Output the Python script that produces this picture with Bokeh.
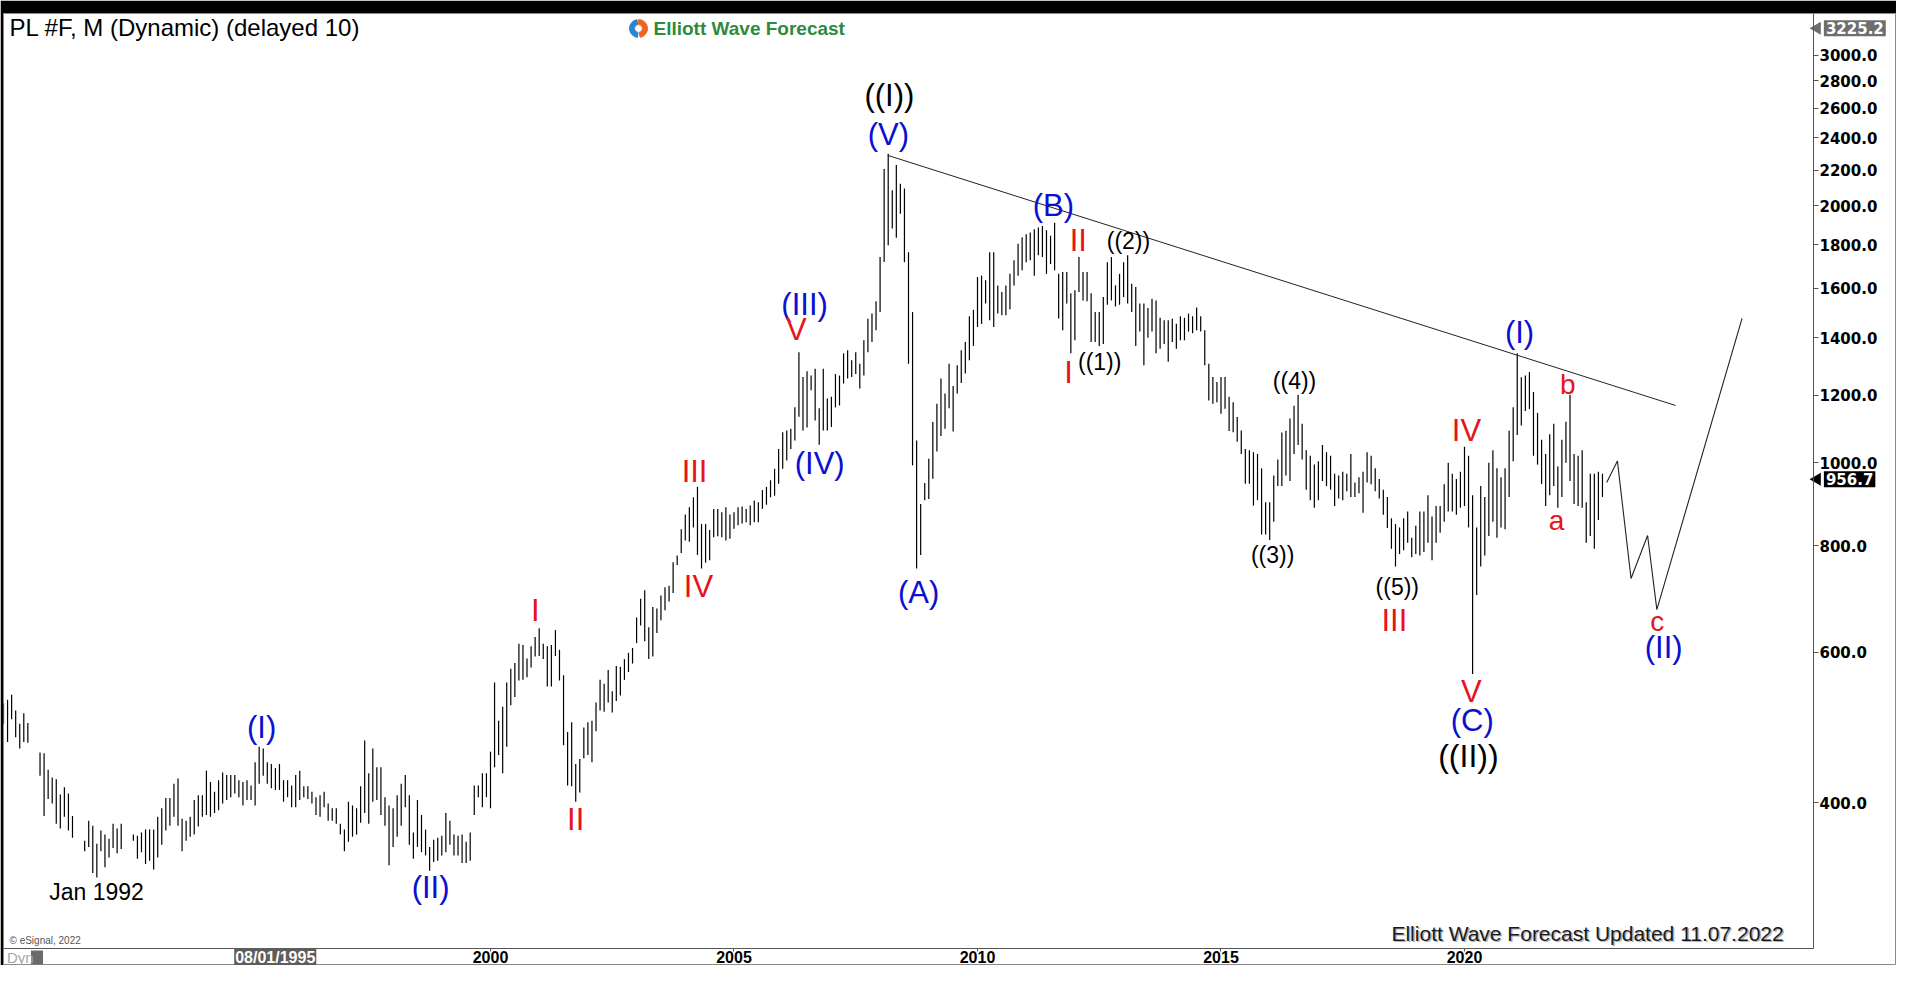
import math
from bokeh.plotting import figure
from bokeh.models import (ColumnDataSource, Range1d, LinearAxis, LogAxis, FixedTicker,
                          PrintfTickFormatter, Label, Grid)
from bokeh.core.properties import value
from bokeh.embed import file_html
from bokeh.resources import INLINE

N = None
# ---- monthly highs / lows of PL #F ----
hi_1990 = [523, 528, 535, 513, 495, 509, 496, N, N, 458, 457, 437]
lo_1990 = [495, 471, 501, 477, 463, 471, 470, N, N, 430, 386, 404]
hi_1991 = [428, 426, 409, 417, 410, 386, N, N, 361, 381, 376, 358]
lo_1991 = [399, 378, 373, 385, 371, 364, N, N, 351, 355, 331, 327]
hi_1992 = [371, 367, 363, 378, 373, 378, N, N, 367, 366, 369, 372]
lo_1992 = [351, 336, 345, 354, 349, 353, N, N, 361, 344, 350, 339]
hi_1993 = [372, 372, 385, 394, 405, 405, 421, 427, 383, 381, 385, 403]
lo_1993 = [342, 334, 345, 357, 371, 376, 385, 376, 351, 361, 365, 367]
hi_1994 = [408, 408, 436, 423, 412, 425, 434, 431, 431, 431, 425, 423]
lo_1994 = [375, 385, 387, 385, 389, 392, 399, 403, 406, 410, 406, 397]
hi_1995 = [425, 419, 446, 465, 463, 446, 444, 439, 444, 425, 425, 419]
lo_1995 = [403, 403, 397, 421, 430, 421, 416, 414, 414, 401, 406, 395]
hi_1996 = [431, 436, 418, 418, 412, 406, 408, 412, 399, 394, 394, 378]
lo_1996 = [395, 403, 406, 404, 399, 387, 385, 395, 381, 381, 378, 367]
hi_1997 = [372, 401, 397, 394, 418, 473, 433, 463, 440, 440, 406, 397]
lo_1997 = [351, 360, 365, 367, 379, 389, 378, 401, 403, 387, 376, 338]
hi_1998 = [394, 408, 421, 431, 408, 369, 403, 387, 372, 355, 362, 364]
lo_1998 = [355, 365, 376, 395, 357, 344, 355, 350, 347, 333, 341, 342]
hi_1999 = [366, 389, 381, 367, 366, 367, 360, 369, 419, 419, 433, 433]
lo_1999 = [347, 350, 357, 347, 347, 340, 340, 342, 387, 406, 395, 406]
hi_2000 = [459, 553, 499, 518, 553, 574, 583, 614, 612, 590, 610, 625]
lo_2000 = [394, 440, 455, 433, 465, 520, 532, 556, 557, 561, 576, 593]
hi_2001 = [640, 614, 610, 612, 637, 604, 564, 484, 497, 444, 450, 490]
lo_2001 = [594, 589, 547, 547, 594, 556, 467, 419, 418, 401, 411, 451]
hi_2002 = [497, 499, 524, 557, 551, 572, 540, 578, 577, 589, 599, 607]
lo_2002 = [455, 446, 485, 513, 511, 524, 510, 526, 534, 557, 569, 582]
hi_2003 = [659, 693, 709, 642, 678, 675, 699, 715, 718, 765, 779, 836]
lo_2003 = [615, 645, 618, 589, 593, 632, 654, 672, 688, 704, 759, 784]
hi_2004 = [870, 887, 911, 937, 848, 848, 834, 883, 883, 875, 887, 870]
lo_2004 = [811, 808, 840, 780, 752, 764, 769, 818, 820, 818, 811, 815]
hi_2005 = [875, 887, 889, 883, 891, 903, 899, 929, 937, 954, 984, 1038]
lo_2005 = [837, 845, 849, 852, 845, 852, 852, 883, 893, 911, 915, 945]
hi_2006 = [1086, 1091, 1096, 1161, 1347, 1260, 1280, 1265, 1288, 1158, 1288, 1189]
lo_2006 = [984, 1006, 1038, 1062, 1132, 1091, 1100, 1216, 1121, 1050, 1091, 1091]
hi_2007 = [1195, 1270, 1265, 1343, 1354, 1318, 1347, 1306, 1391, 1474, 1495, 1546]
lo_2007 = [1101, 1161, 1167, 1238, 1255, 1260, 1270, 1222, 1265, 1347, 1385, 1429]
hi_2008 = [1741, 2207, 2300, 2084, 2231, 2122, 2094, 1764, 1501, 1062, 895, 947]
lo_2008 = [1501, 1718, 1797, 1880, 1834, 1957, 1717, 1306, 993, 752, 780, 904]
hi_2009 = [1011, 1116, 1172, 1255, 1205, 1306, 1230, 1301, 1354, 1385, 1484, 1510]
lo_2009 = [907, 958, 1031, 1075, 1096, 1158, 1088, 1205, 1240, 1272, 1318, 1370]
hi_2010 = [1650, 1656, 1635, 1764, 1764, 1613, 1585, 1613, 1664, 1726, 1805, 1836]
lo_2010 = [1442, 1454, 1536, 1468, 1442, 1495, 1488, 1488, 1513, 1613, 1656, 1680]
hi_2011 = [1852, 1860, 1877, 1885, 1893, 1871, 1844, 1910, 1664, 1672, 1672, 1579]
lo_2011 = [1717, 1726, 1656, 1750, 1741, 1664, 1709, 1680, 1475, 1429, 1536, 1343]
hi_2012 = [1592, 1741, 1672, 1672, 1579, 1501, 1501, 1563, 1717, 1741, 1613, 1664]
lo_2012 = [1391, 1585, 1549, 1545, 1385, 1385, 1370, 1377, 1531, 1549, 1524, 1531]
hi_2013 = [1717, 1750, 1620, 1606, 1536, 1536, 1518, 1556, 1549, 1478, 1468, 1468]
lo_2013 = [1563, 1536, 1501, 1370, 1424, 1301, 1401, 1424, 1343, 1360, 1377, 1313]
hi_2014 = [1474, 1455, 1484, 1478, 1495, 1484, 1520, 1484, 1429, 1306, 1260, 1243]
lo_2014 = [1385, 1360, 1391, 1391, 1424, 1418, 1429, 1424, 1301, 1183, 1172, 1177]
hi_2015 = [1260, 1260, 1195, 1177, 1131, 1091, 1038, 1034, 1029, 1024, 985, 899]
lo_2015 = [1141, 1157, 1089, 1086, 1058, 1024, 945, 945, 891, 904, 824, 824]
hi_2016 = [899, 966, 1009, 1085, 1090, 1127, 1166, 1201, 1111, 1034, 1019, 995]
lo_2016 = [812, 853, 939, 939, 966, 952, 1024, 1049, 1009, 930, 904, 886]
hi_2017 = [1004, 1049, 1029, 1019, 971, 966, 976, 971, 1024, 948, 962, 976]
lo_2017 = [904, 952, 939, 930, 890, 908, 904, 926, 912, 912, 921, 874]
hi_2018 = [1029, 1019, 985, 957, 930, 912, 861, 848, 840, 861, 877, 817]
lo_2018 = [948, 944, 926, 908, 869, 839, 793, 756, 782, 790, 806, 775]
hi_2019 = [844, 877, 877, 916, 865, 890, 890, 944, 1000, 971, 957, 976]
lo_2019 = [782, 779, 786, 806, 769, 806, 828, 853, 877, 877, 869, 886]
hi_2020 = [1044, 1019, 916, 840, 939, 912, 1000, 1034, 985, 962, 985, 1090]
lo_2020 = [890, 840, 566, 700, 756, 779, 821, 853, 817, 840, 836, 912]
hi_2021 = [1161, 1343, 1259, 1265, 1277, 1210, 1144, 1064, 1024, 1080, 1111, 990]
lo_2021 = [1004, 1078, 1106, 1150, 1156, 1019, 995, 944, 890, 916, 939, 886]
hi_2022 = [1064, 1117, 1201, 1024, 1019, 1034, 899, 971, 971, 976, 971]
lo_2022 = [912, 1000, 952, 895, 890, 886, 806, 821, 793, 857, 912]
last_close = 956.7
highest_mark = 3225.2

HI = [hi_1990, hi_1991, hi_1992, hi_1993, hi_1994, hi_1995, hi_1996, hi_1997, hi_1998,
      hi_1999, hi_2000, hi_2001, hi_2002, hi_2003, hi_2004, hi_2005, hi_2006, hi_2007,
      hi_2008, hi_2009, hi_2010, hi_2011, hi_2012, hi_2013, hi_2014, hi_2015, hi_2016,
      hi_2017, hi_2018, hi_2019, hi_2020, hi_2021, hi_2022]
LO = [lo_1990, lo_1991, lo_1992, lo_1993, lo_1994, lo_1995, lo_1996, lo_1997, lo_1998,
      lo_1999, lo_2000, lo_2001, lo_2002, lo_2003, lo_2004, lo_2005, lo_2006, lo_2007,
      lo_2008, lo_2009, lo_2010, lo_2011, lo_2012, lo_2013, lo_2014, lo_2015, lo_2016,
      lo_2017, lo_2018, lo_2019, lo_2020, lo_2021, lo_2022]

# trend line and projected path
trend_t = [2008.158, 2024.333]
trend_p = [2290, 1167]
path_t = [2022.92, 2023.14, 2023.42, 2023.76, 2023.95, 2025.70]
path_p = [948, 1005, 732, 822, 673, 1476]

# axis ticks
x_ticks = [1995, 2000, 2005, 2010, 2015, 2020]
y_ticks = [400, 600, 800, 1000, 1200, 1400, 1600, 1800, 2000, 2200, 2400, 2600, 2800, 3000]

# wave labels
BLUE, RED, BLK = "#0b10cf", "#e8141c", "#000000"
wave_text = ["((I))", "(V)", "(B)", "II", "((2))", "I", "((1))", "(A)", "(III)", "V",
             "(IV)", "III", "IV", "I", "II", "(I)", "(II)", "Jan 1992", "((3))", "((4))",
             "((5))", "III", "IV", "V", "(C)", "((II))", "(I)", "b", "a", "c", "(II)"]
wave_t = [2008.19, 2008.17, 2011.56, 2012.07, 2013.10, 2011.87, 2012.51, 2008.79, 2006.45,
          2006.28, 2006.76, 2004.19, 2004.27, 2000.92, 2001.75, 1995.30, 1998.77, 1991.91,
          2016.06, 2016.51, 2018.62, 2018.56, 2020.04, 2020.14, 2020.16, 2020.08, 2021.13,
          2022.12, 2021.89, 2023.96, 2024.09]
wave_p = [2692, 2423, 2001, 1820, 1820, 1276, 1311, 705, 1532, 1432, 998, 977, 717, 672,
          382, 490, 318.5, 314, 779, 1248, 715, 654, 1091, 540, 499, 454, 1421, 1235, 856,
          652, 608]
wave_color = [BLK, BLUE, BLUE, RED, BLK, RED, BLK, BLUE, BLUE, RED, BLUE, RED, RED, RED,
              RED, BLUE, BLUE, BLK, BLK, BLK, BLK, RED, RED, RED, BLUE, BLK, BLUE, RED, RED,
              RED, BLUE]
wave_size = ["31px", "31px", "31px", "31px", "23px", "31px", "23px", "31px", "31px", "31px",
             "31px", "31px", "31px", "31px", "31px", "31px", "31px", "23px", "23px", "23px",
             "23px", "31px", "31px", "31px", "31px", "32px", "31px", "28px", "28px", "28px",
             "31px"]

# ---- build bar table ----
bt, bh, bl = [], [], []
for k, (hs, ls) in enumerate(zip(HI, LO)):
    yr = 1990 + k
    for m, (h, l) in enumerate(zip(hs, ls)):
        if h is None:
            continue
        bt.append(yr + m / 12.0)
        bh.append(h)
        bl.append(l)
bars = ColumnDataSource(dict(t=bt, hi=bh, lo=bl))

FONT = value("Liberation Sans")

T_LEFT, T_RIGHT = 1990.0, 2028.871
P_BOT, P_TOP = 257.9, 3356.8
T_AXIS = 2027.166      # where the price scale sits
P_AXIS = 270.1         # where the time scale sits
P_STRIP = 263.6        # level of the texts in the time-scale strip

p = figure(width=1896, height=965, output_backend="svg", toolbar_location=None,
           x_range=Range1d(T_LEFT, T_RIGHT), y_range=Range1d(P_BOT, P_TOP),
           y_axis_type="log", x_axis_location=None, y_axis_location=None,
           min_border_left=3, min_border_right=0, min_border_top=13, min_border_bottom=0)
p.background_fill_color = "white"
p.border_fill_color = "black"
p.outline_line_color = "#8a8a8a"
p.outline_line_width = 1
for r in list(p.center):
    if isinstance(r, Grid):
        r.visible = False

xa = LinearAxis(ticker=FixedTicker(ticks=x_ticks), major_label_overrides={1995: ""},
                fixed_location=P_AXIS, bounds=(T_LEFT, T_AXIS))
xa.axis_line_color = "#555555"
xa.major_tick_line_color = "#555555"
xa.major_tick_in = 0
xa.major_tick_out = 3
xa.minor_tick_line_color = None
xa.major_label_standoff = 0
xa.major_label_text_font = "Liberation Sans"
xa.major_label_text_font_style = "bold"
xa.major_label_text_font_size = "16px"
xa.major_label_text_color = "black"
p.add_layout(xa, "below")

ya = LogAxis(ticker=FixedTicker(ticks=y_ticks), formatter=PrintfTickFormatter(format="%.1f"),
             fixed_location=T_AXIS, bounds=(P_AXIS, P_TOP))
ya.axis_line_color = "#555555"
ya.major_tick_line_color = "#555555"
ya.major_tick_in = 0
ya.major_tick_out = 5
ya.minor_tick_line_color = None
ya.major_label_standoff = 1
ya.major_label_text_font = "DejaVu Sans"
ya.major_label_text_font_style = "bold"
ya.major_label_text_font_size = "15px"
ya.major_label_text_color = "black"
p.add_layout(ya, "right")

# bars
p.segment(x0="t", y0="lo", x1="t", y1="hi", source=bars, line_color="black", line_width=1.2)

# trend line & projected path
p.line(trend_t, trend_p, line_color="#222222", line_width=1)
p.line(path_t, path_p, line_color="#222222", line_width=1.1)

# wave labels
p.text(x=wave_t, y=wave_p, text=wave_text, text_color=wave_color, text_font_size=wave_size,
       text_font=FONT, text_align="center", text_baseline="middle")

# header
p.text(x=[1990.123], y=[3232], text=["PL #F, M (Dynamic) (delayed 10)"], text_font=FONT,
       text_font_size="24px", text_color="black", text_align="left", text_baseline="middle")
p.annular_wedge(x=[2003.039, 2003.039], y=[3224, 3224], inner_radius=4, outer_radius=9,
                inner_radius_units="screen", outer_radius_units="screen",
                start_angle=[1.75, 4.9], end_angle=[4.6, 1.55],
                color=["#2a86d0", "#f0621e"])
p.text(x=[2003.347], y=[3224], text=["Elliott Wave Forecast"], text_font=FONT,
       text_font_size="19px", text_font_style="bold", text_color="#2f8a3c",
       text_align="left", text_baseline="middle")

# footer texts
p.text(x=[2026.674], y=[281.2], text=["Elliott Wave Forecast  Updated 11.07.2022"],
       text_font=FONT, text_font_size="21px", text_color="#b5b5b5", text_align="right",
       text_baseline="middle", x_offset=1.5, y_offset=1.5)
p.text(x=[2026.674], y=[281.2], text=["Elliott Wave Forecast  Updated 11.07.2022"],
       text_font=FONT, text_font_size="21px", text_color="#1a1a1a", text_align="right",
       text_baseline="middle")
p.text(x=[1990.123], y=[276], text=["\u00a9 eSignal, 2022"], text_font=FONT,
       text_font_size="10px", text_color="#555555", text_align="left", text_baseline="middle")

# crosshair date box and "Dyn" marker in the time-scale strip
p.add_layout(Label(x=1995.58, y=P_STRIP, text="08/01/1995", text_font="Liberation Sans",
                   text_font_style="bold", text_font_size="16px", text_color="white",
                   text_align="center", text_baseline="middle",
                   background_fill_color="#5d5d5d", padding=1))
p.add_layout(Label(x=1990.07, y=P_STRIP, text="Dyn", text_font="Liberation Sans",
                   text_font_size="15px", text_color="#a8a8a8",
                   text_align="left", text_baseline="middle"))
p.rect(x=[1990.688], y=[P_STRIP], width=12, height=14, width_units="screen",
       height_units="screen", fill_color="#6a6a6a", line_color=None)

# price boxes on the price scale
p.scatter(x=[2027.24, 2027.24], y=[highest_mark, last_close], marker="triangle", size=13,
          angle=math.pi / 2, fill_color=["#6e6e6e", "black"], line_color=None)
p.add_layout(Label(x=2027.38, y=highest_mark, text="%.1f" % highest_mark,
                   text_font="DejaVu Sans", text_font_style="bold", text_font_size="15px",
                   text_color="white", text_align="left", text_baseline="middle",
                   background_fill_color="#6e6e6e", padding=2))
p.add_layout(Label(x=2027.38, y=last_close, text="%.1f" % last_close,
                   text_font="DejaVu Sans", text_font_style="bold", text_font_size="15px",
                   text_color="white", text_align="left", text_baseline="middle",
                   background_fill_color="black", padding=2))

open("out.html", "w").write(file_html(p, INLINE))
